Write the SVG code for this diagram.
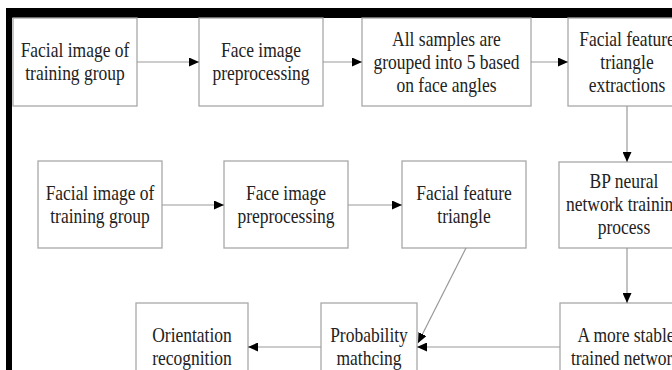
<svg xmlns="http://www.w3.org/2000/svg" width="672" height="370" viewBox="0 0 672 370">
  <defs>
    <marker id="arrow" markerUnits="userSpaceOnUse" markerWidth="10" markerHeight="9" refX="10" refY="4.5" orient="auto">
      <path d="M0,0 L10,4.5 L0,9 Z" fill="#000"/>
    </marker>
  </defs>
  <style>
    .box { fill: #fff; stroke: #a8a8a8; stroke-width: 1.3; }
    .lbl { font-family: "Liberation Serif", "Times New Roman", serif; font-size: 17.5px; fill: #222; text-anchor: middle; }
    .edge { fill: none; stroke: #999; stroke-width: 1.2; marker-end: url(#arrow); }
  </style>

  <rect width="672" height="370" fill="#fff"/>
  <!-- frame -->
  <rect x="6" y="8" width="666" height="10" fill="#000"/>
  <rect x="6" y="8" width="6" height="362" fill="#000"/>

  <!-- row 1 -->
  <g id="n1">
    <rect class="box" x="13" y="18" width="124" height="88"/>
    <text class="lbl" transform="translate(75,62) scale(1,1.18)"><tspan x="0" y="-3.85">Facial image of</tspan><tspan x="0" y="15.65">training group</tspan></text>
  </g>
  <g id="n2">
    <rect class="box" x="199" y="18" width="124" height="88"/>
    <text class="lbl" transform="translate(261,62) scale(1,1.18)"><tspan x="0" y="-3.85">Face image</tspan><tspan x="0" y="15.65">preprocessing</tspan></text>
  </g>
  <g id="n3">
    <rect class="box" x="362" y="18" width="169" height="88"/>
    <text class="lbl" transform="translate(446.5,62) scale(1,1.18)"><tspan x="0" y="-13.6">All samples are</tspan><tspan x="0" y="5.9">grouped into 5 based</tspan><tspan x="0" y="25.4">on face angles</tspan></text>
  </g>
  <g id="n4">
    <rect class="box" x="568" y="18" width="118" height="88"/>
    <text class="lbl" transform="translate(627,62) scale(1,1.18)"><tspan x="0" y="-13.6">Facial feature</tspan><tspan x="0" y="5.9">triangle</tspan><tspan x="0" y="25.4">extractions</tspan></text>
  </g>

  <!-- row 2 -->
  <g id="n5">
    <rect class="box" x="38" y="161" width="124" height="87"/>
    <text class="lbl" transform="translate(100,204.5) scale(1,1.18)"><tspan x="0" y="-3.85">Facial image of</tspan><tspan x="0" y="15.65">training group</tspan></text>
  </g>
  <g id="n6">
    <rect class="box" x="224" y="161" width="124" height="87"/>
    <text class="lbl" transform="translate(286,204.5) scale(1,1.18)"><tspan x="0" y="-3.85">Face image</tspan><tspan x="0" y="15.65">preprocessing</tspan></text>
  </g>
  <g id="n7">
    <rect class="box" x="402" y="161" width="124" height="87"/>
    <text class="lbl" transform="translate(464,204.5) scale(1,1.18)"><tspan x="0" y="-3.85">Facial feature</tspan><tspan x="0" y="15.65">triangle</tspan></text>
  </g>
  <g id="n8">
    <rect class="box" x="559" y="162" width="130" height="86"/>
    <text class="lbl" transform="translate(624,204.5) scale(1,1.18)"><tspan x="0" y="-13.6">BP neural</tspan><tspan x="0" y="5.9">network training</tspan><tspan x="0" y="25.4">process</tspan></text>
  </g>

  <!-- row 3 -->
  <g id="n9">
    <rect class="box" x="136" y="303" width="112" height="88"/>
    <text class="lbl" transform="translate(192,347) scale(1,1.18)"><tspan x="0" y="-3.85">Orientation</tspan><tspan x="0" y="15.65">recognition</tspan></text>
  </g>
  <g id="n10">
    <rect class="box" x="321" y="303" width="96" height="88"/>
    <text class="lbl" transform="translate(369,347) scale(1,1.18)"><tspan x="0" y="-3.85">Probability</tspan><tspan x="0" y="15.65">mathcing</tspan></text>
  </g>
  <g id="n11">
    <rect class="box" x="560" y="303" width="130" height="88"/>
    <text class="lbl" transform="translate(626,347) scale(1,1.18)"><tspan x="0" y="-3.85">A more stable</tspan><tspan x="0" y="15.65">trained network</tspan></text>
  </g>

  <!-- connectors -->
  <g id="edges">
    <line class="edge" x1="137" y1="62" x2="199" y2="62"/>
    <line class="edge" x1="323" y1="62" x2="362" y2="62"/>
    <line class="edge" x1="531" y1="62" x2="568" y2="62"/>
    <line class="edge" x1="627" y1="106" x2="627" y2="162"/>
    <line class="edge" x1="162" y1="205" x2="224" y2="205"/>
    <line class="edge" x1="348" y1="205" x2="402" y2="205"/>
    <line class="edge" x1="627" y1="248" x2="627" y2="303"/>
    <line class="edge" x1="560" y1="347" x2="417" y2="347"/>
    <line class="edge" x1="466" y1="248" x2="418" y2="343"/>
    <line class="edge" x1="321" y1="347" x2="248" y2="347"/>
  </g>
</svg>
